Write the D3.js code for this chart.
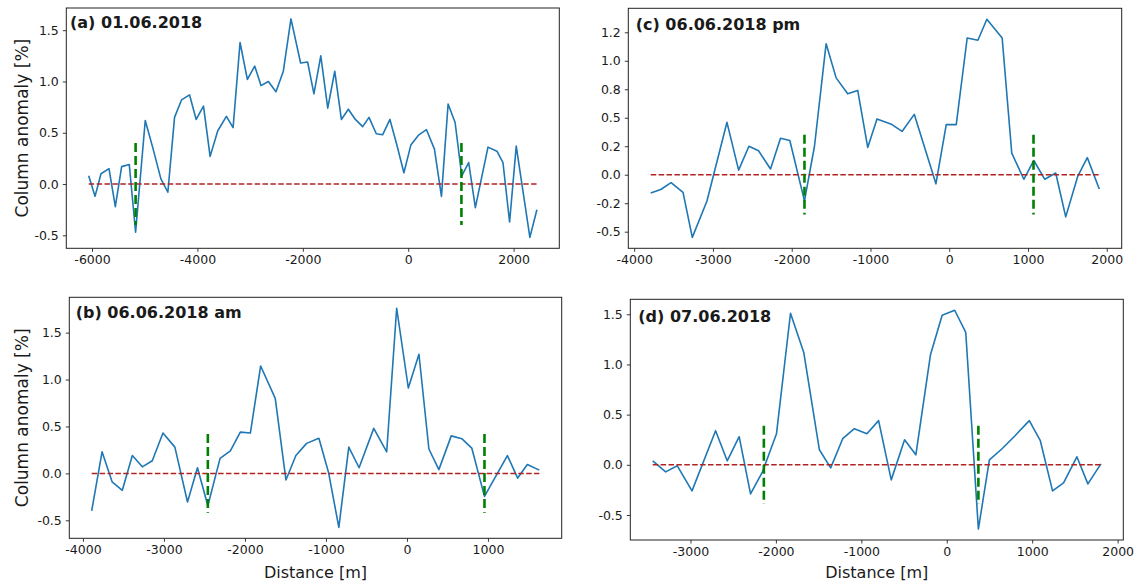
<!DOCTYPE html>
<html>
<head>
<meta charset="utf-8">
<script src="https://cdn.jsdelivr.net/npm/d3@7"></script>
<style>
body{margin:0;background:#fff;}
text{font-family:"DejaVu Sans",sans-serif;fill:#1a1a1a;}
</style>
</head>
<body>
<div id="chart"></div>
<script>
var W=1143, H=585;

// (a) 01.06.2018
var aX=[-6063,-5943,-5830,-5678,-5558,-5438,-5293,-5173,-4990,-4845,-4693,-4561,-4434,-4302,-4150,-4024,-3885,-3759,-3614,-3450,-3323,-3191,-3052,-2913,-2793,-2654,-2509,-2370,-2225,-2042,-1909,-1789,-1659,-1527,-1394,-1268,-1136,-1003,-864,-744,-606,-486,-347,-215,-82,50,202,347,498,631,757,890,1016,1148,1274,1514,1684,1798,1924,2050,2309,2442];
var aY=[0.08,-0.12,0.10,0.15,-0.22,0.17,0.19,-0.47,0.62,0.35,0.05,-0.08,0.65,0.82,0.87,0.63,0.76,0.27,0.52,0.66,0.55,1.38,1.02,1.15,0.96,1.00,0.90,1.10,1.61,1.18,1.19,0.88,1.25,0.74,1.10,0.63,0.73,0.63,0.56,0.65,0.49,0.48,0.63,0.38,0.11,0.38,0.48,0.53,0.34,-0.12,0.78,0.60,0.08,0.21,-0.23,0.36,0.32,0.21,-0.37,0.37,-0.52,-0.25];
var aGreen=[-5173,1010], aGreenHalf=0.4;
var aXTicks=[-6000,-4000,-2000,0,2000];

// (b) 06.06.2018 am
var bX=[-3892,-3764,-3640,-3514,-3390,-3267,-3144,-3012,-2865,-2709,-2586,-2458,-2307,-2180,-2057,-1933,-1806,-1626,-1494,-1371,-1239,-1087,-968,-841,-718,-591,-410,-250,-127,17,148,271,394,547,677,800,957,1240,1367,1486,1634];
var bY=[-0.40,0.23,-0.09,-0.18,0.19,0.07,0.135,0.43,0.28,-0.305,0.06,-0.345,0.16,0.24,0.44,0.43,1.145,0.80,-0.07,0.19,0.32,0.375,0.01,-0.575,0.28,0.06,0.48,0.23,1.76,0.91,1.27,0.26,0.04,0.40,0.37,0.27,-0.245,0.19,-0.05,0.095,0.035];
var bGreen=[-2458,957], bGreenHalf=0.42;
var bXTicks=[-4000,-3000,-2000,-1000,0,1000];

// (c) 06.06.2018 pm
var cX=[-3790,-3663,-3532,-3380,-3262,-3076,-2822,-2674,-2543,-2421,-2269,-2142,-2024,-1838,-1711,-1563,-1436,-1289,-1162,-1035,-917,-726,-599,-444,-169,-38,89,228,364,478,672,794,947,1074,1213,1352,1479,1631,1753,1905];
var cY=[-0.16,-0.13,-0.07,-0.155,-0.55,-0.23,0.46,0.04,0.25,0.21,0.05,0.32,0.30,-0.23,0.25,1.15,0.85,0.71,0.74,0.24,0.49,0.44,0.38,0.53,-0.08,0.44,0.44,1.20,1.18,1.365,1.20,0.19,-0.04,0.125,-0.04,0.015,-0.37,-0.015,0.15,-0.125];
var cGreen=[-1838,1070], cGreenHalf=0.35;
var cXTicks=[-4000,-3000,-2000,-1000,0,1000,2000];
var cYTicks=[-0.5,-0.25,0,0.25,0.5,0.75,1.0,1.25];
var cYLabels=["-0.5","-0.2","0.0","0.2","0.5","0.8","1.0","1.2"];

// (d) 07.06.2018
var dX=[-3442,-3290,-3154,-2982,-2706,-2570,-2430,-2297,-2157,-1993,-1829,-1674,-1491,-1359,-1218,-1082,-935,-798,-650,-494,-362,-190,-54,93,222,370,499,647,799,966,1095,1238,1367,1523,1652,1804];
var dY=[0.04,-0.07,-0.01,-0.26,0.34,0.04,0.28,-0.29,-0.07,0.31,1.51,1.12,0.15,-0.03,0.26,0.36,0.31,0.44,-0.15,0.25,0.10,1.10,1.49,1.54,1.32,-0.64,0.05,0.16,0.29,0.44,0.24,-0.26,-0.18,0.08,-0.19,0.01];
var dGreen=[-2141,370], dGreenHalf=0.39;
var dXTicks=[-3000,-2000,-1000,0,1000,2000];

var stdYTicks=[-0.5,0,0.5,1.0,1.5];
var stdYLabels=["-0.5","0.0","0.5","1.0","1.5"];

var panels=[
  {title:"(a) 01.06.2018", xs:aX, ys:aY, green:aGreen, gh:aGreenHalf, xt:aXTicks, yt:stdYTicks, yl:stdYLabels,
   box:{left:66.3, top:8, width:493, height:240.3}, tpos:[3.7,19.5], ylab:true, xlab:false},
  {title:"(c) 06.06.2018 pm", xs:cX, ys:cY, green:cGreen, gh:cGreenHalf, xt:cXTicks, yt:cYTicks, yl:cYLabels,
   box:{left:628.3, top:8.3, width:493.4, height:240}, tpos:[7.4,21.2], ylab:false, xlab:false},
  {title:"(b) 06.06.2018 am", xs:bX, ys:bY, green:bGreen, gh:bGreenHalf, xt:bXTicks, yt:stdYTicks, yl:stdYLabels,
   box:{left:69.3, top:297.3, width:492.4, height:241}, tpos:[6.4,21], ylab:true, xlab:true},
  {title:"(d) 07.06.2018", xs:dX, ys:dY, green:dGreen, gh:dGreenHalf, xt:dXTicks, yt:stdYTicks, yl:stdYLabels,
   box:{left:630.3, top:299.3, width:493, height:240.7}, tpos:[8,22.4], ylab:false, xlab:true}
];

var svg=d3.select("#chart").append("svg")
  .attr("width",W).attr("height",H);

//matplotlib style 5% margins around the data
function padded(ext){
  var m=(ext[1]-ext[0])*0.05;
  return [ext[0]-m, ext[1]+m];
}

panels.forEach(function(p){
  var b=p.box;
  var x=d3.scaleLinear().domain(padded(d3.extent(p.xs))).range([b.left,b.left+b.width]);
  var y=d3.scaleLinear().domain(padded(d3.extent(p.ys))).range([b.top+b.height,b.top]);
  var g=svg.append("g");
  var pts=p.xs.map(function(v,i){return [v,p.ys[i]];});

  //profile line
  g.append("path")
    .datum(pts)
    .attr("d",d3.line().x(function(d){return x(d[0]);}).y(function(d){return y(d[1]);}))
    .attr("fill","none")
    .attr("stroke","#1f77b4")
    .attr("stroke-width",1.6)
    .attr("stroke-linejoin","round");

  //zero line
  var xe=d3.extent(p.xs);
  g.append("line")
    .attr("x1",x(xe[0])).attr("x2",x(xe[1]))
    .attr("y1",y(0)).attr("y2",y(0))
    .attr("stroke","#b22222")
    .attr("stroke-width",1.5)
    .attr("stroke-dasharray","5.5,2.4");

  //plume edges
  g.selectAll(".edge").data(p.green).enter().append("line")
    .attr("x1",function(d){return x(d);}).attr("x2",function(d){return x(d);})
    .attr("y1",y(p.gh)).attr("y2",y(-p.gh))
    .attr("stroke","#008000")
    .attr("stroke-width",2.6)
    .attr("stroke-dasharray","9,4");

  //axes
  var xAxis=d3.axisBottom(x).tickValues(p.xt).tickSize(3.5).tickPadding(3.5).tickFormat(d3.format("d"));
  var gx=g.append("g").attr("transform","translate(0,"+(b.top+b.height)+")").call(xAxis);
  var yAxis=d3.axisLeft(y).tickValues(p.yt).tickSize(3.5).tickPadding(4)
    .tickFormat(function(d,i){return p.yl[i];});
  var gy=g.append("g").attr("transform","translate("+b.left+",0)").call(yAxis);
  [gx,gy].forEach(function(a){
    a.select(".domain").remove();
    a.selectAll("line").attr("stroke","#222").attr("stroke-width",0.9);
    a.selectAll("text").style("font-size","12.5px").style("font-family","DejaVu Sans").attr("fill","#1a1a1a");
  });
  gx.selectAll("text").text(function(d){return d3.format("d")(d).replace("−","-");});

  g.append("rect")
    .attr("x",b.left).attr("y",b.top).attr("width",b.width).attr("height",b.height)
    .attr("fill","none").attr("stroke","#222").attr("stroke-width",1);

  //panel title
  g.append("text")
    .attr("x",b.left+p.tpos[0]).attr("y",b.top+p.tpos[1])
    .style("font-size","16px").style("font-weight","bold")
    .text(p.title);

  if(p.ylab){
    g.append("text")
      .attr("transform","translate(22,"+(b.top+b.height/2)+")rotate(-90)")
      .attr("text-anchor","middle")
      .attr("dominant-baseline","central")
      .style("font-size","17px")
      .text("Column anomaly [%]");
  }
  if(p.xlab){
    g.append("text")
      .attr("x",b.left+b.width/2).attr("y",578)
      .attr("text-anchor","middle")
      .style("font-size","16px")
      .text("Distance [m]");
  }
});
</script>
</body>
</html>
